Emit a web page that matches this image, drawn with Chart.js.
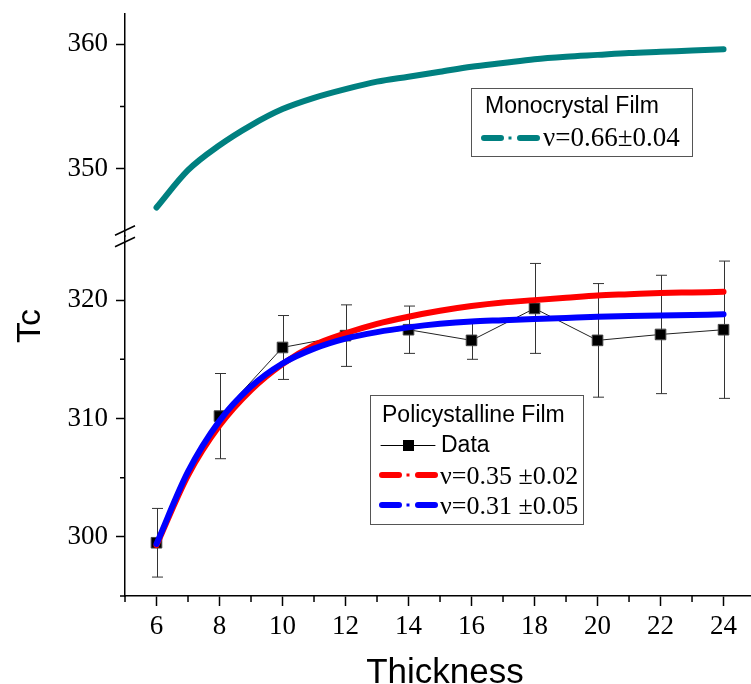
<!DOCTYPE html>
<html>
<head>
<meta charset="utf-8">
<title>Tc vs Thickness</title>
<script src="https://cdn.jsdelivr.net/npm/chart.js@4.4.1/dist/chart.umd.min.js"></script>
<style>
  html, body { margin: 0; padding: 0; background: #fff; }
  canvas { display: block; }
</style>
</head>
<body>
<canvas id="tcChart" width="751" height="684"></canvas>
<script>
// ============ DATA ============

// measured points (policrystalline film)
const thickness = [6, 8, 10, 12, 14, 16, 18, 20, 22, 24];
const tcData = [299.5, 310.2, 316.0, 317.0, 317.5, 316.6, 319.3, 316.6, 317.1, 317.5];
const tcError = [2.9, 3.6, 2.7, 2.6, 2.0, 1.6, 3.8, 4.8, 5.0, 5.8];

// fitted curves
const fitThickness = [6, 7, 8, 9, 10, 11, 12, 13, 14, 15, 16, 17, 18, 19, 20, 21, 22, 23, 24];
const fitRed = [299.3, 305.2, 309.4, 312.4, 314.6, 316.2, 317.2, 318.0, 318.6, 319.1, 319.5, 319.8, 320.0, 320.2, 320.4, 320.5, 320.6, 320.65, 320.7];
const fitBlue = [299.4, 305.5, 309.8, 312.7, 314.65, 315.9, 316.75, 317.3, 317.7, 318.0, 318.2, 318.3, 318.4, 318.5, 318.6, 318.65, 318.7, 318.75, 318.8];
const fitMono = [346.9, 349.9, 351.9, 353.5, 354.8, 355.7, 356.4, 357.0, 357.4, 357.8, 358.2, 358.5, 358.8, 359.0, 359.15, 359.3, 359.4, 359.5, 359.6];

// axis ticks
const xTicks = [6, 8, 10, 12, 14, 16, 18, 20, 22, 24];
const xMinorTicks = [5, 7, 9, 11, 13, 15, 17, 19, 21, 23];
const yTopTicks = [350, 360];
const yTopMinorTicks = [355];
const yBottomTicks = [300, 310, 320];
const yBottomMinorTicks = [295, 305, 315];

const TEAL = '#008080';
const RED = '#ff0000';
const BLUE = '#0000ff';
const SERIF = '"Liberation Serif", "Times New Roman", serif';
const SANS = '"Liberation Sans", Arial, sans-serif';

function toPoints(xs, ys) {
  return xs.map((x, i) => ({ x: x, y: ys[i] }));
}

function setTicks(values) {
  return function(scale) {
    scale.ticks = values.map(v => ({ value: v }));
  };
}

// keep label overhang from pushing the plot area around
function noPadding(scale) {
  scale.paddingTop = 0;
  scale.paddingBottom = 0;
  scale.paddingLeft = 0;
  scale.paddingRight = 0;
}

// ============ PLUGINS ============

const errorBars = {
  id: 'errorBars',
  beforeDatasetsDraw(chart) {
    const { ctx } = chart;
    const x = chart.scales.x;
    const y = chart.scales.yBottom;
    ctx.save();
    ctx.strokeStyle = '#333';
    ctx.lineWidth = 1;
    thickness.forEach((t, i) => {
      const px = Math.round(x.getPixelForValue(t)) + 0.5;
      const top = y.getPixelForValue(tcData[i] + tcError[i]);
      const bot = y.getPixelForValue(tcData[i] - tcError[i]);
      ctx.beginPath();
      ctx.moveTo(px, top);
      ctx.lineTo(px, bot);
      ctx.moveTo(px - 5.5, top);
      ctx.lineTo(px + 5.5, top);
      ctx.moveTo(px - 5.5, bot);
      ctx.lineTo(px + 5.5, bot);
      ctx.stroke();
    });
    ctx.restore();
  }
};

const minorTicks = {
  id: 'minorTicks',
  afterDraw(chart) {
    const { ctx, scales } = chart;
    ctx.save();
    ctx.strokeStyle = '#000';
    ctx.lineWidth = 1.5;
    ctx.beginPath();
    xMinorTicks.forEach(v => {
      const px = scales.x.getPixelForValue(v);
      ctx.moveTo(px, scales.x.top);
      ctx.lineTo(px, scales.x.top + 6);
    });
    [[scales.yTop, yTopMinorTicks], [scales.yBottom, yBottomMinorTicks]].forEach(([s, vals]) => {
      vals.forEach(v => {
        const py = s.getPixelForValue(v);
        ctx.moveTo(s.right, py);
        ctx.lineTo(s.right - 5, py);
      });
    });
    ctx.stroke();
    ctx.restore();
  }
};

// the two slashes where the y axis is cut
const axisBreak = {
  id: 'axisBreak',
  afterDraw(chart) {
    const { ctx } = chart;
    const s = chart.scales.yBottom;
    const ax = s.right;
    const yb = s.top;
    ctx.save();
    ctx.strokeStyle = '#000';
    ctx.lineWidth = 1.5;
    ctx.beginPath();
    ctx.moveTo(ax - 10, yb - 1);
    ctx.lineTo(ax + 10, yb - 10.5);
    ctx.moveTo(ax - 10, yb + 10.5);
    ctx.lineTo(ax + 10, yb + 1);
    ctx.stroke();
    ctx.restore();
  }
};

function drawDashDot(ctx, x0, y, color) {
  ctx.strokeStyle = color;
  ctx.fillStyle = color;
  ctx.lineWidth = 6;
  ctx.lineCap = 'round';
  ctx.beginPath();
  ctx.moveTo(x0 + 3, y);
  ctx.lineTo(x0 + 20, y);
  ctx.moveTo(x0 + 39, y);
  ctx.lineTo(x0 + 56, y);
  ctx.stroke();
  ctx.fillRect(x0 + 27.5, y - 1.5, 3, 3);
}

const legendBoxes = {
  id: 'legendBoxes',
  afterDraw(chart) {
    const { ctx } = chart;
    ctx.save();
    ctx.lineWidth = 1;
    ctx.strokeStyle = '#555';
    ctx.fillStyle = '#fff';

    // monocrystal box
    ctx.fillRect(471, 88, 221, 68);
    ctx.strokeRect(471.5, 88.5, 221, 68);
    ctx.fillStyle = '#000';
    ctx.textBaseline = 'middle';
    ctx.textAlign = 'left';
    ctx.font = '23px ' + SANS;
    ctx.fillText('Monocrystal Film', 485, 107);
    drawDashDot(ctx, 481, 138, TEAL);
    ctx.fillStyle = '#000';
    ctx.font = '27px ' + SERIF;
    ctx.fillText('\u03bd=0.66\u00b10.04', 543, 139);

    // policrystalline box
    ctx.fillStyle = '#fff';
    ctx.fillRect(370, 395, 213, 129);
    ctx.lineWidth = 1;
    ctx.strokeStyle = '#555';
    ctx.strokeRect(370.5, 395.5, 213, 129);
    ctx.fillStyle = '#000';
    ctx.font = '23px ' + SANS;
    ctx.fillText('Policystalline Film', 382, 416);

    ctx.strokeStyle = '#000';
    ctx.lineWidth = 1;
    ctx.beginPath();
    ctx.moveTo(381, 445.5);
    ctx.lineTo(435, 445.5);
    ctx.stroke();
    ctx.fillRect(403, 440, 11, 11);
    ctx.fillText('Data', 441, 446);

    drawDashDot(ctx, 379, 475, RED);
    drawDashDot(ctx, 379, 505, BLUE);
    ctx.fillStyle = '#000';
    ctx.font = '26px ' + SERIF;
    ctx.fillText('\u03bd=0.35 \u00b10.02', 440, 477);
    ctx.fillText('\u03bd=0.31 \u00b10.05', 440, 507);

    // axis titles
    ctx.font = '35px ' + SANS;
    ctx.textAlign = 'center';
    ctx.textBaseline = 'alphabetic';
    ctx.fillText('Thickness', 445, 683);
    ctx.translate(40, 326);
    ctx.rotate(-Math.PI / 2);
    ctx.font = '34px ' + SANS;
    ctx.fillText('Tc', 0, 0);
    ctx.restore();
  }
};

// ============ CHART ============

const tickFont = { family: SERIF, size: 27, lineHeight: 1 };

function yScale(min, max, weight, ticks) {
  return {
    type: 'linear',
    position: 'left',
    stack: 'tc',
    stackWeight: weight,
    min: min,
    max: max,
    afterBuildTicks: setTicks(ticks),
    afterFit(scale) {
      scale.width = 125;
      noPadding(scale);
    },
    border: { color: '#000', width: 1.5 },
    grid: { drawOnChartArea: false, tickLength: 9, tickWidth: 1.5, tickColor: '#000' },
    ticks: { font: tickFont, color: '#000', padding: 8, callback: v => String(v) }
  };
}

const ctx = document.getElementById('tcChart').getContext('2d');

new Chart(ctx, {
  type: 'scatter',
  data: {
    datasets: [
      {
        label: '\u03bd=0.31 \u00b10.05',
        data: toPoints(fitThickness, fitBlue),
        yAxisID: 'yBottom',
        showLine: true,
        borderColor: BLUE,
        borderWidth: 6,
        borderCapStyle: 'round',
        cubicInterpolationMode: 'monotone',
        pointRadius: 0
      },
      {
        label: '\u03bd=0.35 \u00b10.02',
        data: toPoints(fitThickness, fitRed),
        yAxisID: 'yBottom',
        showLine: true,
        borderColor: RED,
        borderWidth: 6,
        borderCapStyle: 'round',
        cubicInterpolationMode: 'monotone',
        pointRadius: 0
      },
      {
        label: 'Data',
        data: toPoints(thickness, tcData),
        yAxisID: 'yBottom',
        showLine: true,
        borderColor: '#222',
        borderWidth: 1,
        pointStyle: 'rect',
        pointRadius: 7.5,
        pointBackgroundColor: '#000',
        pointBorderColor: '#444',
        pointBorderWidth: 1
      },
      {
        label: '\u03bd=0.66\u00b10.04',
        data: toPoints(fitThickness, fitMono),
        yAxisID: 'yTop',
        showLine: true,
        borderColor: TEAL,
        borderWidth: 6,
        borderCapStyle: 'round',
        cubicInterpolationMode: 'monotone',
        pointRadius: 0
      }
    ]
  },
  options: {
    responsive: false,
    animation: false,
    layout: { autoPadding: false, padding: { top: 14, right: 1, left: 0, bottom: 0 } },
    plugins: {
      legend: { display: false },
      tooltip: { enabled: false }
    },
    scales: {
      x: {
        type: 'linear',
        min: 5,
        max: 24.84,
        afterBuildTicks: setTicks(xTicks),
        afterFit(scale) {
          scale.height = 88;
          noPadding(scale);
        },
        border: { color: '#000', width: 1.5 },
        grid: { drawOnChartArea: false, tickLength: 10, tickWidth: 1.5, tickColor: '#000' },
        ticks: { font: tickFont, color: '#000', padding: 7, maxRotation: 0, callback: v => String(v) }
      },
      yBottom: yScale(295, 325.4, 359.9, yBottomTicks),
      yTop: yScale(344.6, 362.43, 222.3, yTopTicks)
    }
  },
  plugins: [errorBars, minorTicks, axisBreak, legendBoxes]
});
</script>
</body>
</html>
